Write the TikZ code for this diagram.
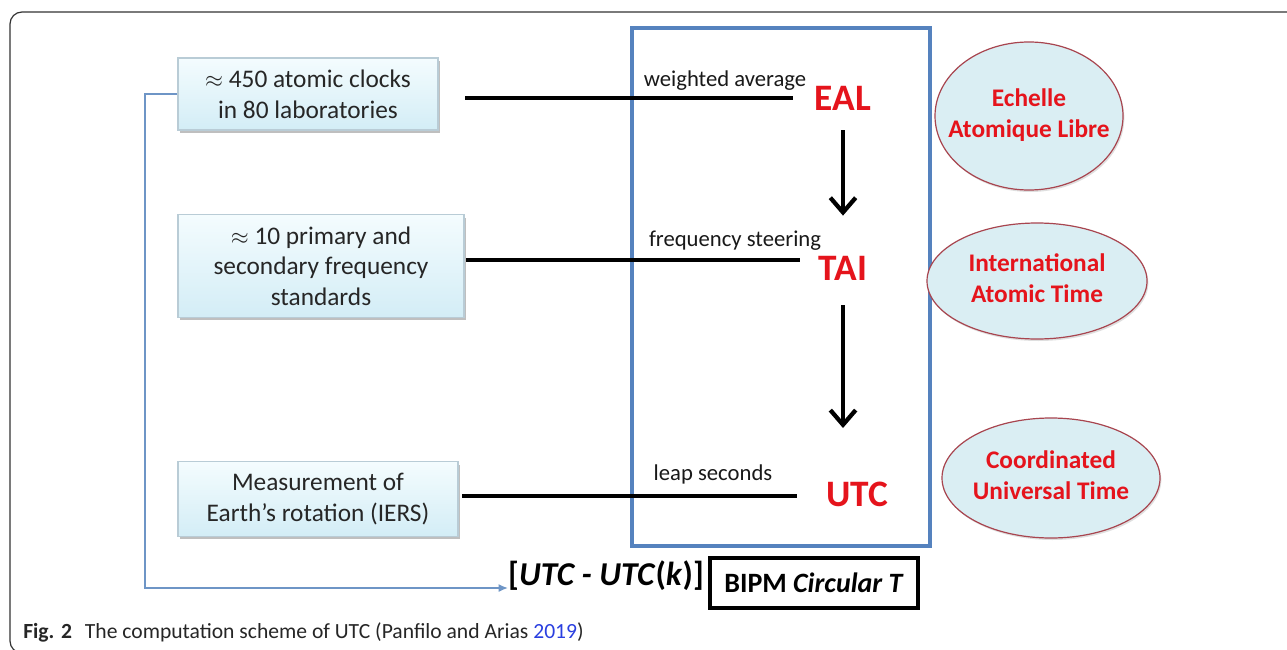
\documentclass[tikz,border=0pt]{standalone}
\usepackage{fontspec}
\setmainfont{Carlito}
\usetikzlibrary{shapes.geometric,arrows.meta,shadows,calc}
\definecolor{boxtop}{HTML}{F4FCFE}
\definecolor{boxbot}{HTML}{D3EDF6}
\definecolor{boxline}{HTML}{B9CCD6}
\definecolor{ellfill}{HTML}{DAEEF3}
\definecolor{ellline}{HTML}{A8454F}
\definecolor{redtxt}{HTML}{E5141C}
\definecolor{framblue}{HTML}{5582BE}
\definecolor{fbblue}{HTML}{6E95C6}
\definecolor{citeblue}{HTML}{2A3FE0}
\definecolor{txtgray}{HTML}{262626}
\newcommand{\elltext}[1]{\makebox[0pt]{\begin{tabular}{@{}c@{}}#1\end{tabular}}}
\tikzset{
  srcbox/.style={draw=boxline, line width=0.8pt, top color=boxtop, bottom color=boxbot,
    align=center, text=txtgray, font=\fontsize{19}{23}\selectfont,
    drop shadow={shadow xshift=1.5pt, shadow yshift=-2.2pt, opacity=0.45, fill=black!55}},
  hline/.style={line width=3.5pt, black},
  lbl/.style={font=\fontsize{17}{20}\selectfont, text=black!90, inner sep=0pt},
  tscale/.style={font=\fontsize{28}{30}\selectfont\bfseries, text=redtxt, inner sep=0pt},
  ell/.style={ellipse, draw=ellline, line width=0.9pt, fill=ellfill,
    text=redtxt, font=\fontsize{19}{23}\selectfont\bfseries, inner sep=0pt,
    drop shadow={shadow xshift=1pt, shadow yshift=-1.5pt, opacity=0.25, fill=black!50}},
  downarr/.style={line width=3.2pt, black, -{Straight Barb[length=11pt,width=19pt,line width=3.2pt]}},
  fbline/.style={line width=1.1pt, fbblue, -{Latex[length=7pt,width=6pt]}},
}
\begin{document}
\begin{tikzpicture}[x=0.75pt,y=-0.75pt]
\useasboundingbox (0,0) rectangle (1287,649);
\fill[white] (0,0) rectangle (1287,649);
% outer frame
\draw[black!80, line width=0.9pt, rounded corners=9pt] (1300,12) -- (10,12) -- (10,653) -- (1300,653);

% source boxes
\node[srcbox, minimum width=195pt, minimum height=54pt] (b1) at (308,94)
  {$\approx$ 450 atomic clocks\\in 80 laboratories};
\node[srcbox, minimum width=214.5pt, minimum height=77pt] (b2) at (321,266)
  {$\approx$ 10 primary and\\secondary frequency\\standards};
\node[srcbox, minimum width=210pt, minimum height=56pt] (b3) at (318,499)
  {Measurement of\\Earth’s rotation (IERS)};

% blue frame
\node[draw=framblue, line width=2.3pt, minimum width=223.5pt, minimum height=388.5pt, inner sep=0pt] (frame) at (781,287) {};

% connectors
\coordinate (l1s) at (465,98);  \coordinate (l1e) at (793,98);
\coordinate (l2s) at (466,260); \coordinate (l2e) at (800,260);
\coordinate (l3s) at (462,496); \coordinate (l3e) at (797,496);
\draw[hline] (l1s) -- (l1e);
\draw[hline] (l2s) -- (l2e);
\draw[hline] (l3s) -- (l3e);

\node[lbl] (wa) at (725,81) {weighted average};
\node[lbl] (fs) at (735,241) {frequency steering};
\node[lbl] (ls) at (713,474) {leap seconds};

% time scales
\node[tscale] (EAL) at (843,98) {EAL};
\node[tscale] (TAI) at (843,268) {TAI};
\node[tscale] (UTC) at (857,494) {UTC};

\draw[downarr, shorten <=15pt, shorten >=30pt] (EAL) -- (TAI);
\coordinate (utcx) at (843,494);
\draw[downarr, shorten <=18.75pt, shorten >=49.5pt] (TAI) -- (utcx);

% ellipses
\node[ell, minimum width=141pt, minimum height=111pt] (e1) at (1029,116) {\elltext{Echelle\\Atomique Libre}};
\node[ell, minimum width=165pt, minimum height=87pt] (e2) at (1037,281) {\elltext{International\\Atomic Time}};
\node[ell, minimum width=163.5pt, minimum height=90pt] (e3) at (1051,478) {\elltext{Coordinated\\Universal Time}};

% result
\node[font=\fontsize{25}{28}\selectfont\bfseries, text=black, inner sep=0pt] (utck) at (606,576)
  {[\textit{UTC - UTC}(\textit{k})]};
\node[draw=black, line width=2.3pt, minimum width=156pt, minimum height=37.5pt, inner sep=0pt,
  font=\fontsize{21}{24}\selectfont\bfseries] (bipm) at (814,583) {BIPM \textit{Circular T}};

% feedback
\coordinate (fbc) at (145,588);
\draw[fbline] (b1.west) -| (fbc) -- ([yshift=-9pt]utck.west);

% caption
\node[anchor=west, inner sep=0pt, font=\fontsize{16.2}{19}\selectfont, text=black!85] (cap) at (23,632)
  {\textbf{Fig. 2}\hspace{0.6em}The computation scheme of UTC (Panfilo and Arias \textcolor{citeblue}{2019})};
\end{tikzpicture}
\end{document}
